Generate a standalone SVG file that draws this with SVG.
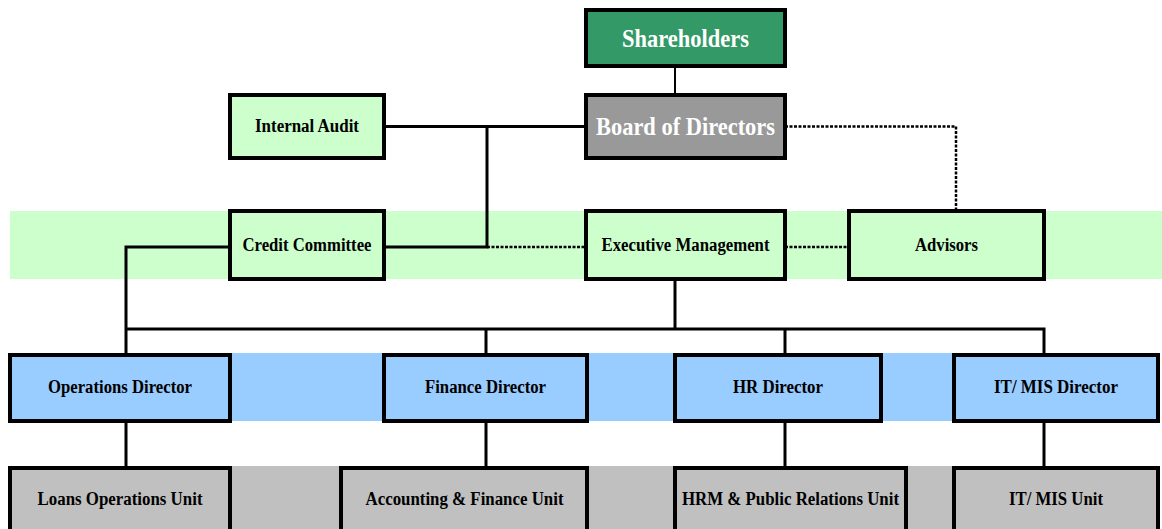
<svg xmlns="http://www.w3.org/2000/svg" width="1162" height="529" viewBox="0 0 1162 529">
  <style>
    .box { stroke: #000; stroke-width: 4; }
    .top { fill: #339966; }
    .board { fill: #999999; }
    .green { fill: #CCFFCC; }
    .blue { fill: #99CCFF; }
    .grey { fill: #C0C0C0; }
    text { font-family: "Liberation Serif", "Times New Roman", serif; font-weight: bold; text-anchor: middle; }
    .big { font-size: 26px; fill: #fff; }
    .lbl { font-size: 18px; fill: #000; }
    .solid { stroke: #000; stroke-width: 3; fill: none; }
    .thin { stroke: #000; stroke-width: 2; fill: none; }
    .dash { stroke: #000; stroke-width: 2.5; fill: none; stroke-dasharray: 3 1.5; }
  </style>

  <!-- tier bands -->
  <g id="bands">
    <rect x="10" y="211" width="1152" height="68" fill="#CCFFCC"/>
    <rect x="10" y="353" width="1150" height="68" fill="#99CCFF"/>
    <rect x="10" y="466" width="1150" height="63" fill="#C0C0C0"/>
  </g>

  <!-- connectors -->
  <g id="connectors">
    <line class="thin" x1="675" y1="66" x2="675" y2="95"/>
    <polyline class="solid" points="384,126.5 586,126.5"/>
    <polyline class="solid" points="487,126.5 487,247 384,247"/>
    <line class="dash" x1="487" y1="247" x2="586" y2="247"/>
    <polyline class="dash" points="785,126.5 956,126.5 956,211"/>
    <line class="dash" x1="785" y1="247" x2="849" y2="247"/>
    <line class="solid" x1="675" y1="279" x2="675" y2="329"/>
    <polyline class="solid" points="230,247 126,247 126,353"/>
    <polyline class="solid" points="126,329 1044,329 1044,353"/>
    <line class="solid" x1="486" y1="329" x2="486" y2="353"/>
    <line class="solid" x1="785" y1="329" x2="785" y2="353"/>
    <line class="solid" x1="126" y1="421" x2="126" y2="466"/>
    <line class="solid" x1="486" y1="421" x2="486" y2="466"/>
    <line class="solid" x1="785" y1="421" x2="785" y2="466"/>
    <line class="solid" x1="1044" y1="421" x2="1044" y2="466"/>
  </g>

  <g id="shareholders">
    <rect class="box top" x="586" y="10" width="199" height="56"/>
    <text class="big" x="685.5" y="47" textLength="127" lengthAdjust="spacingAndGlyphs">Shareholders</text>
  </g>
  <g id="board">
    <rect class="box board" x="586" y="95" width="199" height="63"/>
    <text class="big" x="685.5" y="135" textLength="179" lengthAdjust="spacingAndGlyphs">Board of Directors</text>
  </g>
  <g id="internal-audit">
    <rect class="box green" x="230" y="95" width="154" height="63"/>
    <text class="lbl" x="307" y="132" textLength="104" lengthAdjust="spacingAndGlyphs">Internal Audit</text>
  </g>
  <g id="credit-committee">
    <rect class="box green" x="230" y="211" width="154" height="68"/>
    <text class="lbl" x="307" y="251" textLength="129" lengthAdjust="spacingAndGlyphs">Credit Committee</text>
  </g>
  <g id="executive-management">
    <rect class="box green" x="586" y="211" width="199" height="68"/>
    <text class="lbl" x="685.5" y="251" textLength="168" lengthAdjust="spacingAndGlyphs">Executive Management</text>
  </g>
  <g id="advisors">
    <rect class="box green" x="849" y="211" width="195" height="68"/>
    <text class="lbl" x="946.5" y="251" textLength="63" lengthAdjust="spacingAndGlyphs">Advisors</text>
  </g>

  <g id="operations-director">
    <rect class="box blue" x="10" y="355" width="220" height="66"/>
    <text class="lbl" x="120" y="393" textLength="144" lengthAdjust="spacingAndGlyphs">Operations Director</text>
  </g>
  <g id="finance-director">
    <rect class="box blue" x="384" y="355" width="203" height="66"/>
    <text class="lbl" x="485.5" y="393" textLength="121" lengthAdjust="spacingAndGlyphs">Finance Director</text>
  </g>
  <g id="hr-director">
    <rect class="box blue" x="675" y="355" width="206" height="66"/>
    <text class="lbl" x="778" y="393" textLength="90" lengthAdjust="spacingAndGlyphs">HR Director</text>
  </g>
  <g id="it-mis-director">
    <rect class="box blue" x="954" y="355" width="204" height="66"/>
    <text class="lbl" x="1056" y="393" textLength="124" lengthAdjust="spacingAndGlyphs">IT/ MIS Director</text>
  </g>

  <!-- bottom row runs past the lower edge of the canvas -->
  <g id="loans-operations-unit">
    <rect class="box grey" x="10" y="468" width="220" height="70"/>
    <text class="lbl" x="120" y="505" textLength="165" lengthAdjust="spacingAndGlyphs">Loans Operations Unit</text>
  </g>
  <g id="accounting-finance-unit">
    <rect class="box grey" x="341" y="468" width="246" height="70"/>
    <text class="lbl" x="464.5" y="505" textLength="198" lengthAdjust="spacingAndGlyphs">Accounting &amp; Finance Unit</text>
  </g>
  <g id="hrm-public-relations-unit">
    <rect class="box grey" x="675" y="468" width="231" height="70"/>
    <text class="lbl" x="790.5" y="505" textLength="217" lengthAdjust="spacingAndGlyphs">HRM &amp; Public Relations Unit</text>
  </g>
  <g id="it-mis-unit">
    <rect class="box grey" x="954" y="468" width="204" height="70"/>
    <text class="lbl" x="1056" y="505" textLength="94" lengthAdjust="spacingAndGlyphs">IT/ MIS Unit</text>
  </g>
</svg>
